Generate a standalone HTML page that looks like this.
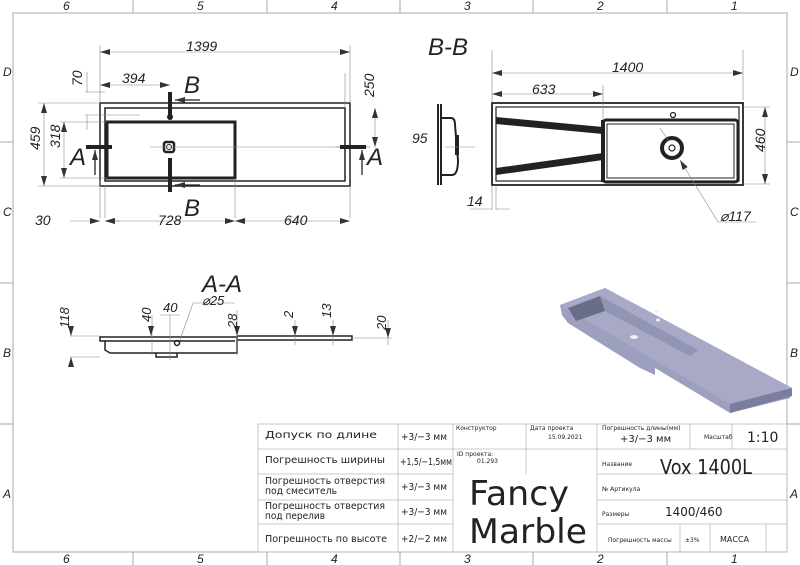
<!DOCTYPE html>
<html><head><meta charset="utf-8"><style>
html,body{margin:0;padding:0;background:#fff}
svg{display:block}
text{font-family:"Liberation Sans",sans-serif;font-style:italic;fill:#222}
.t{font-family:"DejaVu Sans","Liberation Sans",sans-serif;font-style:normal;fill:#222}
</style></head><body>
<svg width="800" height="565" viewBox="0 0 800 565" xmlns="http://www.w3.org/2000/svg">
<defs>
<marker id="a" viewBox="0 0 10 6" refX="10" refY="3" markerWidth="10" markerHeight="6" orient="auto-start-reverse" markerUnits="userSpaceOnUse"><path d="M0,0 L10,3 L0,6z" fill="#333"/></marker>
</defs>
<g stroke="#aaa" stroke-width="1" fill="none">
<rect x="13" y="13" width="774" height="539"/>
<path d="M133,0V13M267,0V13M400,0V13M533,0V13M667,0V13M133,552V565M267,552V565M400,552V565M533,552V565M667,552V565M0,142H13M0,283H13M0,424H13M787,142H800M787,283H800M787,424H800"/>
</g>
<g font-size="12">
<text x="63" y="10">6</text><text x="197" y="10">5</text><text x="331" y="10">4</text><text x="464" y="10">3</text><text x="597" y="10">2</text><text x="731" y="10">1</text>
<text x="63" y="563">6</text><text x="197" y="563">5</text><text x="331" y="563">4</text><text x="464" y="563">3</text><text x="597" y="563">2</text><text x="731" y="563">1</text>
<text x="3" y="76">D</text><text x="3" y="216">C</text><text x="3" y="357">B</text><text x="3" y="498">A</text>
<text x="790" y="76">D</text><text x="790" y="216">C</text><text x="790" y="357">B</text><text x="790" y="498">A</text>
</g>

<g fill="none" stroke="#222">
<rect x="100" y="103" width="250" height="83" stroke-width="1.5"/>
<rect x="105" y="108" width="240" height="73" stroke-width="1.5"/>
<rect x="107" y="122" width="128" height="56" stroke-width="3"/>
<rect x="164" y="142" width="10" height="10" stroke-width="2.5" rx="2"/>
<circle cx="169" cy="147" r="2.5" stroke-width="1"/>
</g>
<g stroke="#888" stroke-width="0.6" fill="none">
<path d="M100,45V103M350,45V103M100,180V218M235,178V218M350,186V218M105,186V218"/>
<path d="M100,52H350" marker-start="url(#a)" marker-end="url(#a)"/>
<path d="M100,85H170" marker-start="url(#a)" marker-end="url(#a)"/>
<path d="M38,103H100M38,186H100M60,122H107M60,178H107M85,115H140M85,92H105M345,73V108M335,147H370"/>
<path d="M44,103V186" marker-start="url(#a)" marker-end="url(#a)"/>
<path d="M64,122V178" marker-start="url(#a)" marker-end="url(#a)"/>
<path d="M87,72V92M87,115V130"/>
<path d="M375,108V147" marker-start="url(#a)" marker-end="url(#a)"/>
<path d="M105,221H235" marker-start="url(#a)" marker-end="url(#a)"/>
<path d="M235,221H350" marker-start="url(#a)" marker-end="url(#a)"/>
<path d="M70,221H100" marker-end="url(#a)"/><path d="M120,221H105" marker-end="url(#a)"/>
<path d="M150,147H370"/>
</g>
<g stroke="#222" stroke-width="4" fill="none">
<path d="M170,92V118M170,158V192M86,147H112M340,147H366"/>
</g>
<g stroke="#222" stroke-width="1.3" fill="#222">
<path d="M200,100H175" marker-end="url(#a)"/><path d="M200,185H175" marker-end="url(#a)"/>
<path d="M95,175V150" marker-end="url(#a)"/><path d="M362,175V150" marker-end="url(#a)"/>
</g>
<circle cx="170" cy="117" r="3" fill="#222"/>
<g font-size="14">
<text x="186" y="51">1399</text>
<text x="122" y="83">394</text>
<text x="35" y="225">30</text><text x="158" y="225">728</text><text x="284" y="225">640</text>
<text transform="translate(60,148) rotate(-90)">318</text>
<text transform="translate(40,150) rotate(-90)">459</text>
<text transform="translate(82,86) rotate(-90)">70</text>
<text transform="translate(374,97) rotate(-90)">250</text>
</g>
<g font-size="24"><text x="184" y="93">B</text><text x="184" y="216">B</text><text x="70" y="165">A</text><text x="367" y="165">A</text></g>

<text x="428" y="55" font-size="24">B-B</text>
<g fill="none" stroke="#222">
<rect x="492" y="103" width="251" height="82" stroke-width="1.8"/>
<rect x="496" y="107" width="243" height="74" stroke-width="1.2"/>
<rect x="603" y="120" width="135" height="62" rx="3" stroke-width="3"/>
<rect x="607" y="124" width="127" height="54" stroke-width="1"/>
<circle cx="672" cy="148" r="10" stroke-width="4"/>
<circle cx="672" cy="148" r="3" stroke-width="1.2"/>
<circle cx="673" cy="115" r="2.5" stroke-width="1.3"/>
</g>
<g fill="#222">
<path d="M496,117 L603,127 L603,134 L496,124z"/>
<path d="M496,168 L603,153 L603,160 L496,175z"/>
<rect x="601" y="120" width="4" height="62"/>
</g>
<g fill="none" stroke="#222" stroke-width="2">
<path d="M438,104V185M441,104V185"/>
<path d="M441,118H451Q455,118 455,125L458,160Q458,175 452,175H441"/>
</g>
<g fill="#222"><rect x="455" y="135" width="4" height="20"/></g>
<g stroke="#888" stroke-width="0.6" fill="none">
<path d="M492,50V103M743,50V100M603,85V120M445,147H475"/>
<path d="M492,73H743" marker-start="url(#a)" marker-end="url(#a)"/>
<path d="M492,94H603" marker-start="url(#a)" marker-end="url(#a)"/>
<path d="M743,107H770M743,184H770"/>
<path d="M765,107V184" marker-start="url(#a)" marker-end="url(#a)"/>
<path d="M492,185V210M496,185V210M470,209H492M510,209H496"/>
<path d="M660,128L668,140"/><path d="M718,222L680,160" marker-end="url(#a)"/><path d="M718,222H756"/>
</g>
<g font-size="14">
<text x="612" y="72">1400</text><text x="532" y="94">633</text>
<text x="467" y="206">14</text><text x="720" y="221">⌀117</text>
<text x="412" y="143">95</text>
<text transform="translate(765,152) rotate(-90)">460</text>
</g>

<text x="202" y="292" font-size="24">A-A</text>
<g fill="none" stroke="#222" stroke-width="1.5">
<path d="M100,337H237V353H110L105,350V341H100z"/>
<path d="M105,341H235"/>
<path d="M237,336H352V340H237"/>
<path d="M156,353V357H177V353"/>
</g>
<circle cx="177" cy="343" r="2.5" fill="none" stroke="#222" stroke-width="1.5"/>
<g stroke="#888" stroke-width="0.6" fill="none">
<path d="M70,336H100M70,357H100"/>
<path d="M71,328V336" marker-end="url(#a)"/><path d="M71,366V357" marker-end="url(#a)"/>
<path d="M152,315V355M170,315V360M237,310V355M295,320V345M333,320V345M388,320V345M352,338H392"/>
<path d="M160,315H180M193,303L180,340"/><path d="M193,303H235"/>
<path d="M151,330V336" marker-end="url(#a)"/><path d="M237,330V336" marker-end="url(#a)"/>
<path d="M295,330V336" marker-end="url(#a)"/><path d="M333,330V336" marker-end="url(#a)"/><path d="M388,330V338" marker-end="url(#a)"/>
</g>
<g font-size="13">
<text x="163" y="312">40</text><text x="202" y="305">⌀25</text>
<text transform="translate(69,328) rotate(-90)">118</text>
<text transform="translate(151,322) rotate(-90)">40</text>
<text transform="translate(237,328) rotate(-90)">28</text>
<text transform="translate(293,318) rotate(-90)">2</text>
<text transform="translate(331,318) rotate(-90)">13</text>
<text transform="translate(386,330) rotate(-90)">20</text>
</g>

<g>
<path d="M560,305 L605,288 L792,388 L790,398 L730,413 L655,368 L655,375 L640,368 L568,323 L562,315z" fill="#9c9fbe"/>
<path d="M560,305 L605,288 L792,388 L730,404z" fill="#a7a9c6"/>
<path d="M568,308 L600,296 L605,311 L576,321z" fill="#6a6d8a"/>
<path d="M600,296 L698,350 L690,356 L605,311z" fill="#9194b3"/>
<path d="M730,404 L792,388 L792,396 L730,413z" fill="#7a7d9c"/>
<ellipse cx="634" cy="337" rx="4" ry="2" fill="#f0f0f5"/><ellipse cx="658" cy="320" rx="2" ry="1.5" fill="#f0f0f5"/><ellipse cx="657" cy="311" rx="2" ry="1.5" fill="#f0f0f5"/>
</g>

<g stroke="#bbb" stroke-width="0.8" fill="none">
<rect x="258" y="424" width="529" height="128"/>
<path d="M258,449H453M258,474H453M258,500H453M258,524H453M398,424V552M453,424V552M526,424V474M453,449H597M597,424V552M597,474H787M597,449H787M597,500H787M597,524H787M690,424V449M732,424V449M680,524V552M710,524V552M766,524V552"/>
</g>
<g>
<text class="t" x="265" y="438" font-size="10" textLength="112" lengthAdjust="spacingAndGlyphs">Допуск по длине</text>
<text class="t" x="265" y="463" font-size="10" textLength="120" lengthAdjust="spacingAndGlyphs">Погрешность ширины</text>
<text class="t" x="265" y="484" font-size="10" textLength="120" lengthAdjust="spacingAndGlyphs">Погрешность отверстия</text>
<text class="t" x="265" y="494" font-size="10" textLength="72" lengthAdjust="spacingAndGlyphs">под смеситель</text>
<text class="t" x="265" y="509" font-size="10" textLength="120" lengthAdjust="spacingAndGlyphs">Погрешность отверстия</text>
<text class="t" x="265" y="519" font-size="10" textLength="60" lengthAdjust="spacingAndGlyphs">под перелив</text>
<text class="t" x="265" y="542" font-size="10" textLength="122" lengthAdjust="spacingAndGlyphs">Погрешность по высоте</text>
<text class="t" x="401" y="440" font-size="10" textLength="46" lengthAdjust="spacingAndGlyphs">+3/−3 мм</text>
<text class="t" x="400" y="465" font-size="10" textLength="52" lengthAdjust="spacingAndGlyphs">+1,5/−1,5мм</text>
<text class="t" x="401" y="490" font-size="10" textLength="46" lengthAdjust="spacingAndGlyphs">+3/−3 мм</text>
<text class="t" x="401" y="515" font-size="10" textLength="46" lengthAdjust="spacingAndGlyphs">+3/−3 мм</text>
<text class="t" x="401" y="542" font-size="10" textLength="46" lengthAdjust="spacingAndGlyphs">+2/−2 мм</text>
<text class="t" x="456" y="430" font-size="6">Конструктор</text>
<text class="t" x="530" y="430" font-size="6">Дата проекта</text>
<text class="t" x="548" y="439" font-size="6">15.09.2021</text>
<text class="t" x="457" y="456" font-size="6">ID проекта:</text>
<text class="t" x="477" y="463" font-size="6">01.293</text>
<text class="t" x="469" y="505" font-size="34" textLength="100" lengthAdjust="spacingAndGlyphs">Fancy</text>
<text class="t" x="469" y="543" font-size="34" textLength="118" lengthAdjust="spacingAndGlyphs">Marble</text>
<text class="t" x="602" y="430" font-size="6">Погрешность длины(мм)</text>
<text class="t" x="620" y="442" font-size="10">+3/−3 мм</text>
<text class="t" x="704" y="439" font-size="6">Масштаб</text>
<text class="t" x="747" y="442" font-size="14">1:10</text>
<text class="t" x="602" y="466" font-size="6">Название</text>
<text class="t" x="660" y="474" font-size="20" textLength="92" lengthAdjust="spacingAndGlyphs">Vox 1400L</text>
<text class="t" x="602" y="491" font-size="6">№ Артикула</text>
<text class="t" x="602" y="516" font-size="6">Размеры</text>
<text class="t" x="665" y="516" font-size="12">1400/460</text>
<text class="t" x="608" y="542" font-size="6">Погрешность массы</text>
<text class="t" x="685" y="542" font-size="6">±3%</text>
<text class="t" x="720" y="542" font-size="8">МАССА</text>
</g>
</svg>
</body></html>
